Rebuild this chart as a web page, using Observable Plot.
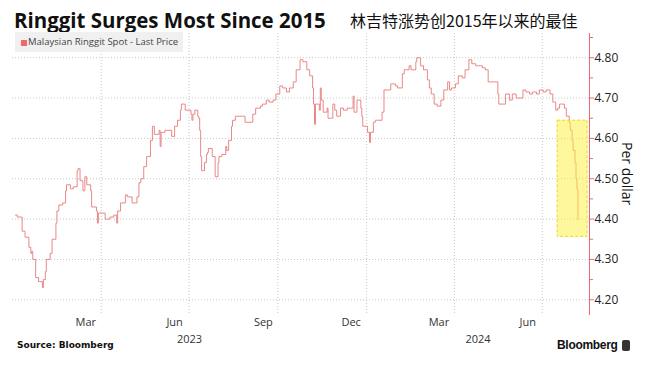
<!DOCTYPE html>
<html><head><meta charset="utf-8">
<script src="https://cdn.jsdelivr.net/npm/d3@7"></script>
<script src="https://cdn.jsdelivr.net/npm/@observablehq/plot@0.6"></script>
<style>
body{margin:0;background:#fff;}
#wrap{position:relative;width:656px;height:365px;overflow:hidden;font-family:"Open Sans",sans-serif;background:#fff;}
#wrap svg{position:absolute;left:0;top:0;}
.title{position:absolute;left:14px;top:10px;font-weight:700;font-size:19px;line-height:1;color:#111;white-space:nowrap;font-family:"Open Sans",sans-serif;}
.sub{position:absolute;left:350px;top:12px;font-size:16px;line-height:1;color:#111;white-space:nowrap;font-family:"Noto Sans CJK SC",sans-serif;}
.legend{position:absolute;left:15px;top:32px;width:168px;height:20px;background:#f0f0f0;}
.legend .sw{position:absolute;left:6px;top:8px;width:6px;height:6px;background:#f06868;}
.legend .lt{position:absolute;left:13px;top:4px;font-size:9.5px;line-height:12px;color:#444;white-space:nowrap;}
.perdollar{position:absolute;left:620px;top:142px;writing-mode:vertical-rl;font-size:14px;line-height:1;color:#111;}
.source{position:absolute;left:17px;top:341px;font-family:"DejaVu Sans",sans-serif;font-weight:700;font-size:9px;line-height:1;color:#111;white-space:nowrap;}
.logo{position:absolute;left:557px;top:339px;font-family:"Liberation Sans",Arial,sans-serif;font-weight:700;font-size:12px;line-height:1;color:#111;white-space:nowrap;letter-spacing:-0.3px;}
.icon{position:absolute;left:622px;top:340px;width:8px;height:11px;background:#333;border-radius:2px;}
</style>
</head><body>
<div id="wrap"></div>
<script>
const dates = [
"2023-01-02","2023-01-04","2023-01-09","2023-01-12","2023-01-16","2023-01-18","2023-01-19","2023-01-20","2023-01-23","2023-01-26",
"2023-01-30","2023-01-31","2023-02-02","2023-02-03","2023-02-07","2023-02-09","2023-02-13","2023-02-14","2023-02-16","2023-02-20",
"2023-02-23","2023-02-24","2023-02-28","2023-03-03","2023-03-07","2023-03-08","2023-03-10","2023-03-13","2023-03-15","2023-03-17",
"2023-03-21","2023-03-22","2023-03-27","2023-03-28","2023-03-29","2023-04-03","2023-04-05","2023-04-10","2023-04-14","2023-04-17",
"2023-04-18","2023-04-21","2023-04-26","2023-04-28","2023-05-03","2023-05-08","2023-05-10","2023-05-12","2023-05-15","2023-05-18",
"2023-05-22","2023-05-24","2023-05-26","2023-05-31","2023-06-01","2023-06-02","2023-06-06","2023-06-09","2023-06-13","2023-06-16",
"2023-06-19","2023-06-22","2023-06-23","2023-06-27","2023-07-03","2023-07-04","2023-07-05","2023-07-07","2023-07-10","2023-07-11",
"2023-07-12","2023-07-13","2023-07-14","2023-07-17","2023-07-19","2023-07-20","2023-07-21","2023-07-25","2023-07-28","2023-07-31",
"2023-08-01","2023-08-04","2023-08-08","2023-08-09","2023-08-11","2023-08-14","2023-08-15","2023-08-18","2023-08-22","2023-08-25",
"2023-08-28","2023-09-01","2023-09-05","2023-09-08","2023-09-13","2023-09-15","2023-09-19","2023-09-22","2023-09-26","2023-09-29",
"2023-10-03","2023-10-06","2023-10-10","2023-10-13","2023-10-17","2023-10-20","2023-10-24","2023-10-27","2023-10-31","2023-11-03",
"2023-11-06","2023-11-07","2023-11-08","2023-11-09","2023-11-13","2023-11-14","2023-11-15","2023-11-17","2023-11-21","2023-11-22",
"2023-11-27","2023-11-29","2023-12-01","2023-12-05","2023-12-08","2023-12-12","2023-12-15","2023-12-18","2023-12-19","2023-12-22",
"2023-12-26","2023-12-27","2023-12-28","2024-01-02","2024-01-04","2024-01-05","2024-01-08","2024-01-10","2024-01-12","2024-01-17",
"2024-01-19","2024-01-24","2024-01-26","2024-01-31","2024-02-02","2024-02-07","2024-02-09","2024-02-14","2024-02-16","2024-02-21",
"2024-02-22","2024-02-26","2024-02-29","2024-03-04","2024-03-06","2024-03-08","2024-03-11","2024-03-14","2024-03-18","2024-03-21",
"2024-03-25","2024-03-27","2024-03-29","2024-04-02","2024-04-05","2024-04-09","2024-04-12","2024-04-16","2024-04-19","2024-04-23",
"2024-04-26","2024-04-30","2024-05-03","2024-05-06","2024-05-09","2024-05-13","2024-05-16","2024-05-17","2024-05-21","2024-05-24",
"2024-05-28","2024-05-31","2024-06-04","2024-06-07","2024-06-11","2024-06-14","2024-06-18","2024-06-21","2024-06-25","2024-06-28",
"2024-07-02","2024-07-05","2024-07-09","2024-07-12","2024-07-15","2024-07-17","2024-07-19","2024-07-24","2024-07-26","2024-07-29",
"2024-07-30","2024-08-01","2024-08-02","2024-08-04","2024-08-05","2024-08-06","2024-08-07"
];
const values = [
4.41,4.405,4.37,4.355,4.33,4.315,4.32,4.30,4.255,4.245,
4.23,4.25,4.27,4.30,4.315,4.35,4.39,4.42,4.435,4.44,
4.47,4.485,4.475,4.48,4.52,4.525,4.495,4.47,4.505,4.485,
4.47,4.43,4.42,4.39,4.415,4.415,4.40,4.405,4.41,4.39,
4.42,4.44,4.46,4.455,4.44,4.455,4.49,4.50,4.53,4.555,
4.595,4.63,4.61,4.62,4.58,4.615,4.62,4.62,4.605,4.63,
4.645,4.67,4.685,4.67,4.66,4.645,4.66,4.67,4.655,4.65,
4.62,4.555,4.52,4.54,4.56,4.565,4.575,4.555,4.505,4.54,
4.555,4.56,4.58,4.57,4.595,4.63,4.645,4.655,4.655,4.655,
4.64,4.64,4.66,4.675,4.68,4.685,4.695,4.69,4.695,4.71,
4.73,4.725,4.715,4.725,4.74,4.77,4.795,4.79,4.77,4.755,
4.725,4.685,4.635,4.685,4.67,4.725,4.695,4.665,4.675,4.65,
4.685,4.67,4.655,4.675,4.67,4.675,4.675,4.705,4.665,4.695,
4.675,4.655,4.63,4.615,4.59,4.615,4.64,4.645,4.645,4.665,
4.72,4.72,4.735,4.73,4.725,4.76,4.77,4.78,4.77,4.79,
4.80,4.78,4.77,4.745,4.725,4.71,4.685,4.68,4.695,4.72,
4.74,4.72,4.725,4.735,4.755,4.75,4.77,4.795,4.785,4.78,
4.78,4.775,4.77,4.74,4.74,4.74,4.71,4.685,4.685,4.71,
4.695,4.71,4.70,4.70,4.72,4.715,4.71,4.715,4.71,4.72,
4.715,4.72,4.71,4.69,4.67,4.675,4.685,4.675,4.655,4.64,
4.62,4.595,4.57,4.54,4.50,4.475,4.40
];
const yTicks = [4.2, 4.3, 4.4, 4.5, 4.6, 4.7, 4.8];
const yMinorTicks = [4.25, 4.35, 4.45, 4.55, 4.65, 4.75, 4.85];
const gridDates = ["2023-04-01","2023-07-01","2023-10-01","2024-01-01","2024-04-01","2024-07-01"];
const monthLabels = ["Mar","Jun","Sep","Dec","Mar","Jun"];
const monthLabelDates = ["2023-03-16","2023-06-16","2023-09-16","2023-12-16","2024-03-16","2024-06-16"];
const yearLabels = ["2023","2024"];
const highlightBox = {start:"2024-07-17", end:"2024-08-17", low:4.356, high:4.644};
const xDomain = ["2022-12-30","2024-08-19"];
const yDomain = [4.161, 4.86];

const data = dates.map((d, i) => ({date: new Date(d), value: values[i]}));
const xd = xDomain.map(d => new Date(d));
const yearBounds = [[xd[0], new Date("2024-01-01")], [new Date("2024-01-01"), xd[1]]];
const yearData = yearLabels.map((t, i) => ({t, date: new Date((+yearBounds[i][0] + +yearBounds[i][1]) / 2)}));
const monthData = monthLabels.map((t, i) => ({t, date: new Date(monthLabelDates[i])}));
const red = "#ee6a6a";

const chart = Plot.plot({
  width: 656, height: 365,
  marginTop: 33, marginBottom: 50, marginLeft: 12, marginRight: 67,
  style: {fontFamily: "Open Sans, sans-serif", fontSize: "12px", color: "#222", background: "transparent", overflow: "visible"},
  x: {type: "utc", domain: xd, axis: null},
  y: {domain: yDomain, axis: null},
  marks: [
    Plot.ruleY(yTicks, {stroke: "#c8c8c8", strokeDasharray: "1,2"}),
    Plot.ruleX(gridDates.map(d => new Date(d)), {stroke: "#c8c8c8", strokeDasharray: "1,2"}),
    Plot.line(data, {x: "date", y: "value", stroke: "#e47c7c", strokeWidth: 0.9, curve: "step-after"}),
    Plot.rect([highlightBox], {x1: d => new Date(d.start), x2: d => new Date(d.end), y1: "low", y2: "high",
      fill: "#ffef3a", fillOpacity: 0.5, stroke: "#e9da1c", strokeWidth: 1, strokeDasharray: "3,2"}),
    Plot.ruleX([xd[1]], {stroke: red, strokeWidth: 1}),
    Plot.axisY({anchor: "right", ticks: yMinorTicks, tickSize: 3, tickFormat: () => "", stroke: red, label: null}),
    Plot.axisY({anchor: "right", ticks: yTicks, tickSize: 4, tickPadding: 1, tickFormat: d => d.toFixed(2),
      stroke: red, fill: "#222", fontSize: 12, label: null}),
    Plot.text(monthData, {x: "date", text: "t", frameAnchor: "bottom", dy: 7, lineAnchor: "middle", fontSize: 11, fill: "#333"}),
    Plot.text(yearData, {x: "date", text: "t", frameAnchor: "bottom", dy: 24, lineAnchor: "middle", fontSize: 11, fill: "#333"})
  ]
});

const wrap = document.getElementById("wrap");
wrap.appendChild(chart);
wrap.insertAdjacentHTML("beforeend", `
<div class="title" id="title">Ringgit Surges Most Since 2015</div>
<div class="sub">林吉特涨势创2015年以来的最佳</div>
<div class="legend"><div class="sw"></div><div class="lt">Malaysian Ringgit Spot - Last Price</div></div>
<div class="perdollar">Per dollar</div>
<div class="source">Source: Bloomberg</div>
<div class="logo">Bloomberg</div>
<div class="icon"></div>
`);
const t = document.getElementById("title");
const w = t.getBoundingClientRect().width;
if (w > 0) t.style.fontSize = (19 * 312 / w).toFixed(2) + "px";
</script>
</body></html>
